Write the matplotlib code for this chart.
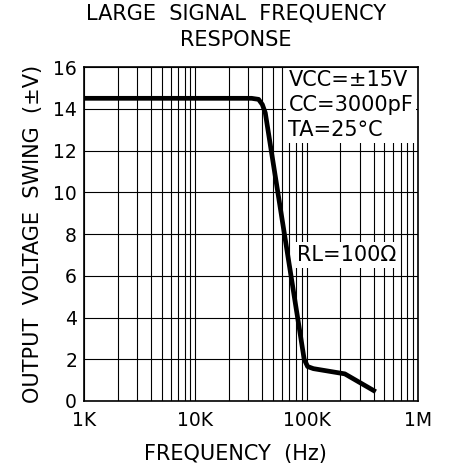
import matplotlib
matplotlib.use("Agg")
import matplotlib.pyplot as plt
from matplotlib.ticker import LogLocator, NullFormatter

# curve
freq = [1e3, 3.2e4, 3.7e4, 4.0e4, 4.25e4, 9.5e4, 1.02e5, 1.15e5, 2.2e5, 4.0e5]
swing = [14.5, 14.5, 14.45, 14.2, 13.8, 2.0, 1.65, 1.55, 1.3, 0.5]

xticks = [1e3, 1e4, 1e5, 1e6]
xlabels = ['1K', '10K', '100K', '1M']
yticks = [0, 2, 4, 6, 8, 10, 12, 14, 16]

plt.rcParams['font.family'] = 'DejaVu Sans'
fig = plt.figure(figsize=(4.53, 4.71), dpi=100)
ax = fig.add_axes([84 / 453, 1 - 401 / 471, 334 / 453, 334 / 471])

ax.plot(freq, swing, color='black', linewidth=3.4, solid_joinstyle='round', zorder=3)

ax.set_xscale('log')
ax.set_xlim(1e3, 1e6)
ax.set_ylim(0, 16)
ax.set_xticks(xticks)
ax.set_xticklabels(xlabels)
ax.set_yticks(yticks)
ax.xaxis.set_minor_locator(LogLocator(base=10, subs=range(2, 10)))
ax.xaxis.set_minor_formatter(NullFormatter())
ax.tick_params(which='both', length=0, labelsize=13.5)
ax.tick_params(axis='x', pad=7)
ax.tick_params(axis='y', pad=5)
ax.grid(True, which='both', axis='x', color='black', linewidth=0.8)
ax.grid(True, which='major', axis='y', color='black', linewidth=0.8)
for s in ax.spines.values():
    s.set_linewidth(1.2)

ax.text(0.612, 0.99, 'VCC=±15V\nCC=3000pF\nTA=25°C', transform=ax.transAxes,
        ha='left', va='top', fontsize=15, linespacing=1.3, zorder=4,
        bbox=dict(facecolor='white', edgecolor='none', pad=2))
ax.text(8.2e4, 7.0, 'RL=100Ω', ha='left', va='center', fontsize=15, zorder=4,
        bbox=dict(facecolor='white', edgecolor='none', pad=2))

fig.text(0.521, 0.993, 'LARGE  SIGNAL  FREQUENCY\nRESPONSE', ha='center', va='top',
         fontsize=15, linespacing=1.4)
ax.set_xlabel('FREQUENCY  (Hz)', fontsize=15)
ax.xaxis.set_label_coords(0.452, -0.128)
ax.set_ylabel('OUTPUT  VOLTAGE  SWING  (±V)', fontsize=15, labelpad=7)

fig.savefig('out.png', dpi=100)
